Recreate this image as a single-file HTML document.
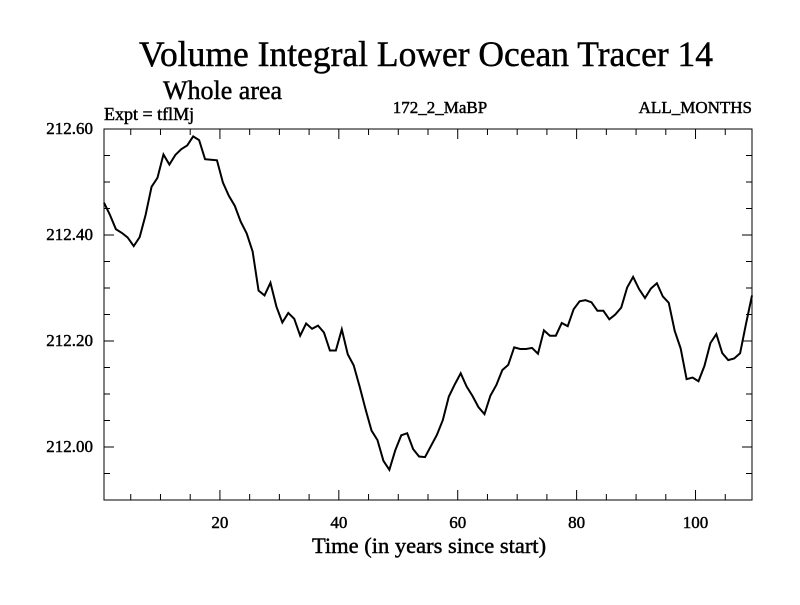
<!DOCTYPE html>
<html><head><meta charset="utf-8"><style>
body{margin:0;background:#fff}
svg text{font-family:"Liberation Serif",serif;fill:#000;stroke:#000;stroke-width:0.45px}
</style></head><body>
<svg width="800" height="600" id="c" xmlns="http://www.w3.org/2000/svg">
<text x="426" y="66" font-size="35.5" text-anchor="middle">Volume Integral Lower Ocean Tracer 14</text>
<text x="163" y="99" font-size="26">Whole area</text>
<text x="104" y="120" font-size="18">Expt = tflMj</text>
<text x="440" y="113" font-size="17" text-anchor="middle">172_2_MaBP</text>
<text x="752" y="113" font-size="17" text-anchor="end">ALL_MONTHS</text>
<text x="429" y="553" font-size="22.5" text-anchor="middle">Time (in years since start)</text>
<rect x="104" y="129" width="648" height="371" fill="none" stroke="#000" stroke-width="1"/>
<g id="ticks"></g>
<path id="line" fill="none" stroke="#000" stroke-width="2"/>
</svg>
<script>
const values=[212.461,212.438,212.411,212.404,212.395,212.379,212.396,212.438,212.491,212.508,212.552,212.533,212.551,212.562,212.569,212.586,212.579,212.543,212.542,212.541,212.499,212.474,212.455,212.425,212.403,212.369,212.295,212.286,212.310,212.265,212.235,212.253,212.242,212.210,212.233,212.223,212.229,212.216,212.182,212.182,212.222,212.175,212.154,212.114,212.071,212.031,212.013,211.974,211.957,211.994,212.022,212.026,211.996,211.982,211.981,
212.002,212.023,212.051,212.095,212.118,212.139,212.114,212.096,212.075,212.062,212.097,212.117,212.145,212.155,212.188,212.185,212.185,212.187,212.176,212.220,212.210,212.210,212.234,212.228,212.260,212.275,212.277,212.273,212.257,212.257,212.241,212.250,212.263,212.301,212.321,212.298,212.281,212.299,212.309,212.284,212.272,212.219,212.186,212.128,212.131,212.124,212.153,212.196,212.213,212.177,212.164,212.167,212.177,212.233,212.286];
const xStart=0.5;
const xTicks=[20,40,60,80,100];
const yTicks=[212.00,212.20,212.40,212.60];
const xMin=0.5,xMax=109.5,yMin=211.9,yMax=212.6;
const L=104,R=752,T=129,B=500;
const sx=v=>L+(v-xMin)/(xMax-xMin)*(R-L);
const sy=v=>B-(v-yMin)/(yMax-yMin)*(B-T);
const NS="http://www.w3.org/2000/svg";
const svg=document.getElementById('c'),g=document.getElementById('ticks');
let d='';
values.forEach((v,i)=>{d+=(i?'L':'M')+sx(xStart+i).toFixed(2)+','+sy(v).toFixed(2);});
document.getElementById('line').setAttribute('d',d);
function ln(x1,y1,x2,y2,name){const l=document.createElementNS(NS,'line');
l.setAttribute('x1',x1);l.setAttribute('y1',y1);l.setAttribute('x2',x2);l.setAttribute('y2',y2);
l.setAttribute('stroke','#000');l.setAttribute('stroke-width','1');


g.appendChild(l);}
function tx(x,y,s,anchor,name){const t=document.createElementNS(NS,'text');
t.setAttribute('x',x);t.setAttribute('y',y);t.setAttribute('font-size','17');t.setAttribute('text-anchor',anchor);t.textContent=s;


svg.appendChild(t);}
for(let v=5;v<=105;v+=5){const x=sx(v),len=(v%20===0)?10:6;
ln(x,B,x,B-len,'x-tick');ln(x,T,x,T+len,'x-tick-top');}
for(let k=0;k<=14;k++){const v=211.9+k*0.05;if(v>212.6001)break;const y=sy(v);const major=Math.abs(((v-212)/0.2)-Math.round((v-212)/0.2))<1e-6;const len=major?10:6;
ln(L,y,L+len,y,'y-tick');ln(R,y,R-len,y,'y-tick-right');}
xTicks.forEach(v=>tx(sx(v),528,String(v),'middle','x-tick-label'));
yTicks.forEach(v=>tx(93,sy(v)+5,v.toFixed(2),'end','y-tick-label'));
</script>
</body></html>
